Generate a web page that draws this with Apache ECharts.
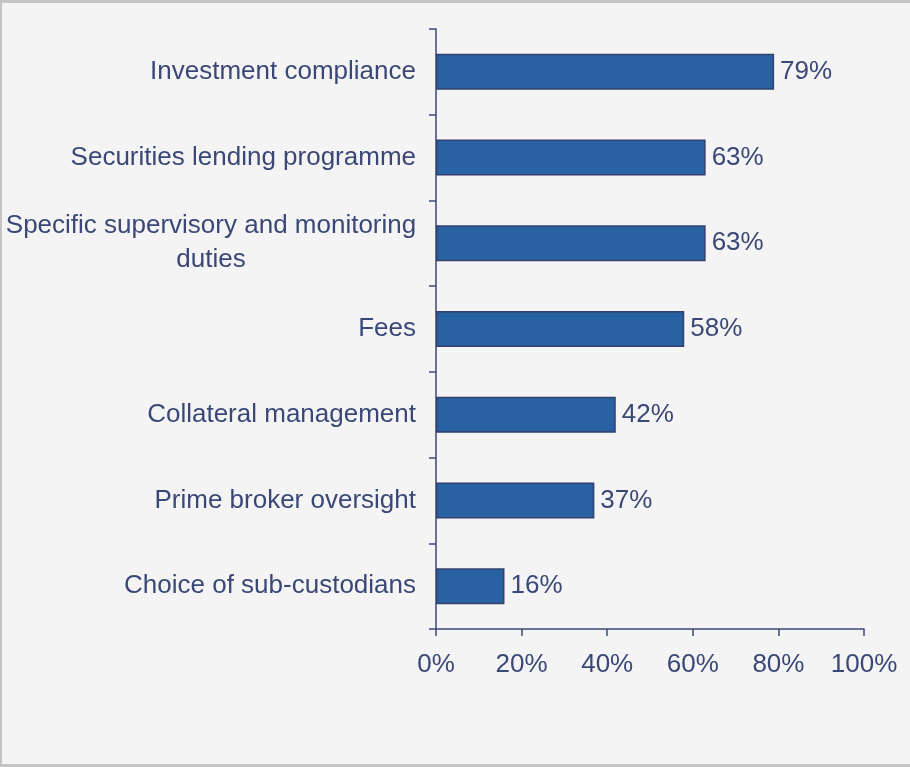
<!DOCTYPE html>
<html>
<head>
<meta charset="utf-8">
<script src="https://cdn.jsdelivr.net/npm/echarts@6/dist/echarts.min.js"></script>
<style>
  html, body { margin: 0; padding: 0; background: #f4f4f4; }
  #frame {
    position: absolute; left: 0; top: 0; width: 910px; height: 767px;
    box-sizing: border-box; background: #f4f4f4;
    border-top: 3px solid #c4c4c4; border-left: 2px solid #c4c4c4; border-bottom: 3px solid #c4c4c4;
  }
  #chart { position: absolute; left: 0; top: 0; width: 910px; height: 767px; }
</style>
</head>
<body>
<div id="frame"></div>
<div id="chart"></div>
<script>
// Areas of oversight, share of respondents
const categories = [
  'Investment compliance',
  'Securities lending programme',
  'Specific supervisory and monitoring\nduties',
  'Fees',
  'Collateral management',
  'Prime broker oversight',
  'Choice of sub-custodians'
];
const values = [79, 63, 63, 58, 42, 37, 16];
const xTicks = [0, 20, 40, 60, 80, 100];

const ink = '#3b4877';
const font = 'Liberation Sans, Arial, sans-serif';
const fs = 26;

const chart = echarts.init(document.getElementById('chart'), null, { renderer: 'canvas' });
chart.setOption({
  backgroundColor: 'transparent',
  animation: false,
  grid: { left: 436, right: 46, top: 29, bottom: 138, containLabel: false },
  xAxis: {
    type: 'value',
    min: xTicks[0],
    max: xTicks[xTicks.length - 1],
    interval: xTicks[1] - xTicks[0],
    splitLine: { show: false },
    axisLine: { show: true, lineStyle: { color: ink, width: 1.5 } },
    axisTick: { show: true, length: 7, lineStyle: { color: ink, width: 1.5 } },
    axisLabel: {
      formatter: '{value}%', color: ink, fontSize: fs, fontFamily: font, margin: 23
    }
  },
  yAxis: {
    type: 'category',
    data: categories,
    inverse: true,
    axisLine: { show: true, lineStyle: { color: ink, width: 1.5 } },
    axisTick: { show: true, length: 7, alignWithLabel: false, lineStyle: { color: ink, width: 1.5 } },
    axisLabel: {
      color: ink, fontSize: fs, fontFamily: font, margin: 20, lineHeight: 34,
      formatter: function (v) {
        if (v.indexOf('\n') >= 0) {
          return v.split('\n').map(function (s) { return '{c|' + s + '}'; }).join('\n');
        }
        return v;
      },
      rich: {
        c: { width: 410, align: 'center', color: ink, fontSize: fs, fontFamily: font, lineHeight: 34 }
      }
    }
  },
  series: [{
    type: 'bar',
    data: values,
    barWidth: 36,
    itemStyle: { color: '#2862a2', borderColor: '#33406c', borderWidth: 1.5 },
    label: {
      show: true, position: 'right', distance: 6,
      formatter: '{c}%', color: ink, fontSize: fs, fontFamily: font
    }
  }]
});
</script>
</body>
</html>
